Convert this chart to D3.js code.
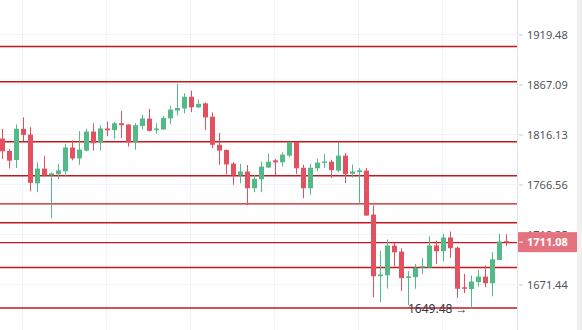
<!DOCTYPE html>
<html>
<head>
<meta charset="utf-8">
<script src="https://cdn.jsdelivr.net/npm/d3@7"></script>
<style>
  html, body { margin: 0; padding: 0; background: #fff; }
  svg { display: block; font-family: "Noto Sans", "Open Sans", sans-serif; }
</style>
</head>
<body>
<div id="chart"></div>
<script>
// candles, oldest first
var opens = [
  1812.1, 1799.8, 1790.7, 1821.9, 1816.1, 1767.7, 1782.2, 1775.6, 1776.6, 1779.6,
  1803.1, 1792.3, 1800.0, 1819.1, 1808.1, 1822.2, 1820.5, 1827.5, 1826.2, 1808.8,
  1824.7, 1832.2, 1820.5, 1821.2, 1832.4, 1840.4, 1842.5, 1854.5, 1843.6, 1847.7,
  1834.2, 1805.8, 1800.7, 1787.1, 1775.4, 1779.3, 1762.9, 1771.7, 1783.2, 1790.3,
  1788.4, 1795.0, 1808.4, 1783.0, 1762.9, 1782.5, 1787.8, 1789.0, 1780.2, 1795.0,
  1777.1, 1778.8, 1780.2, 1737.4, 1679.1, 1680.0, 1707.7, 1702.2, 1677.5, 1678.2,
  1687.2, 1687.2, 1707.9, 1702.5, 1715.5, 1705.8, 1668.9, 1667.3, 1673.6, 1678.8,
  1672.6, 1694.3, 1712.0
];
var highs = [
  1821.9, 1801.4, 1826.2, 1833.5, 1823.5, 1788.4, 1795.0, 1778.3, 1786.8, 1806.8,
  1810.1, 1819.5, 1821.9, 1827.5, 1825.2, 1829.2, 1828.7, 1840.0, 1826.5, 1827.4,
  1836.2, 1842.3, 1827.4, 1835.0, 1845.2, 1867.9, 1858.0, 1860.7, 1851.6, 1848.7,
  1838.5, 1817.8, 1801.0, 1788.4, 1786.8, 1785.8, 1776.3, 1789.0, 1797.3, 1791.7,
  1798.3, 1808.4, 1808.4, 1786.1, 1786.8, 1792.0, 1796.7, 1791.0, 1808.4, 1797.5,
  1786.1, 1782.7, 1782.9, 1746.3, 1703.1, 1713.6, 1710.3, 1705.2, 1683.9, 1690.6,
  1696.2, 1716.5, 1712.6, 1719.0, 1721.2, 1706.9, 1681.3, 1679.8, 1685.0, 1689.0,
  1701.5, 1719.0, 1718.6
];
var lows = [
  1791.7, 1782.2, 1782.7, 1809.3, 1760.0, 1759.0, 1774.7, 1733.9, 1771.7, 1774.1,
  1790.4, 1786.0, 1799.3, 1800.0, 1800.0, 1814.3, 1811.3, 1812.6, 1804.1, 1800.8,
  1821.4, 1819.1, 1816.9, 1820.7, 1826.4, 1835.4, 1837.4, 1838.7, 1842.8, 1820.4,
  1802.4, 1786.0, 1776.5, 1766.3, 1767.8, 1746.7, 1759.0, 1759.0, 1782.9, 1775.4,
  1784.2, 1793.3, 1777.0, 1753.2, 1756.3, 1779.3, 1782.9, 1772.9, 1778.6, 1767.8,
  1773.4, 1747.7, 1736.4, 1659.7, 1655.1, 1667.7, 1688.3, 1665.6, 1652.5, 1667.5,
  1681.3, 1687.2, 1690.6, 1693.0, 1696.2, 1659.2, 1663.4, 1649.48, 1669.6, 1668.9,
  1660.5, 1694.3, 1707.2
];
var closes = [
  1799.3, 1790.0, 1821.9, 1815.8, 1768.2, 1782.2, 1775.4, 1777.5, 1780.4, 1803.1,
  1792.2, 1801.0, 1819.1, 1807.4, 1822.2, 1820.4, 1827.4, 1825.5, 1808.8, 1825.5,
  1832.4, 1819.8, 1822.2, 1833.0, 1841.3, 1843.0, 1854.5, 1843.6, 1847.2, 1833.4,
  1805.8, 1800.0, 1786.3, 1775.4, 1779.3, 1762.9, 1772.1, 1784.2, 1789.0, 1788.4,
  1796.0, 1808.4, 1782.5, 1762.9, 1783.0, 1788.1, 1789.2, 1780.7, 1795.0, 1776.8,
  1779.3, 1780.5, 1736.4, 1679.1, 1680.7, 1707.9, 1701.5, 1677.5, 1679.0, 1686.9,
  1688.4, 1707.9, 1702.5, 1715.5, 1705.3, 1667.5, 1667.5, 1674.2, 1678.8, 1672.6,
  1694.9, 1711.7, 1711.08
];

// price axis ticks (log scale) and drawn support / resistance levels
var yTicks = [1919.48, 1867.09, 1816.13, 1766.56, 1718.35, 1671.44];
var levels = [1906.8, 1869.9, 1808.9, 1775.2, 1747.7, 1729.5, 1710.6, 1687.2, 1649.9];
// candles that carry a vertical time grid line
var timeGrid = [3, 15, 27, 39, 51, 63];

var lastPrice = 1711.08;
var lowPrice = 1649.48;

(function(d3) {

    'use strict';

    var width = 582,
        height = 330,
        plotRight = 517;

    var up = '#53b987',
        down = '#e2515f',
        levelColor = '#c8161f',
        gridColor = '#f0f3fa';

    var svg = d3.select('#chart')
      .append('svg')
        .attr('width', width)
        .attr('height', height);

    var x = d3.scaleLinear()
      .domain([0, opens.length - 1])
      .range([2.5, 506.5]);

    var y = d3.scaleLog()
      .domain([yTicks[0], yTicks[yTicks.length - 1]])
      .range([34.5, 284.5]);

    // scrollbar strip on the far right
    svg.append('rect')
      .attr('x', 577).attr('y', 0)
      .attr('width', width - 577).attr('height', height)
      .attr('fill', '#f0f0f0');

    // grid
    svg.append('g')
      .selectAll('line')
      .data(yTicks)
      .enter().append('line')
        .attr('x1', 0).attr('x2', plotRight)
        .attr('y1', function(d) { return y(d); })
        .attr('y2', function(d) { return y(d); })
        .attr('stroke', gridColor);

    svg.append('g')
      .selectAll('line')
      .data(timeGrid)
      .enter().append('line')
        .attr('x1', function(d) { return x(d) - 1; })
        .attr('x2', function(d) { return x(d) - 1; })
        .attr('y1', 0).attr('y2', height)
        .attr('stroke', gridColor);

    // level lines
    svg.append('g')
      .selectAll('line')
      .data(levels)
      .enter().append('line')
        .attr('x1', 0).attr('x2', plotRight)
        .attr('y1', function(d) { return y(d); })
        .attr('y2', function(d) { return y(d); })
        .attr('stroke', levelColor)
        .attr('stroke-width', 1.4);

    // candles
    var candles = svg.append('g')
      .selectAll('g')
      .data(d3.range(opens.length))
      .enter().append('g')
        .attr('fill', function(i) { return closes[i] >= opens[i] ? up : down; })
        .attr('stroke', function(i) { return closes[i] >= opens[i] ? up : down; });

    candles.append('line')
      .attr('x1', function(i) { return x(i); })
      .attr('x2', function(i) { return x(i); })
      .attr('y1', function(i) { return y(highs[i]); })
      .attr('y2', function(i) { return y(lows[i]); })
      .attr('stroke-width', 1);

    candles.append('rect')
      .attr('stroke', 'none')
      .attr('x', function(i) { return x(i) - 2.5; })
      .attr('width', 5)
      .attr('y', function(i) { return y(Math.max(opens[i], closes[i])); })
      .attr('height', function(i) {
          return Math.max(1.2, Math.abs(y(opens[i]) - y(closes[i])));
      });

    // lowest low marker
    var lowIndex = lows.indexOf(lowPrice);
    var lowLabel = svg.append('text')
      .attr('x', x(lowIndex) - 4)
      .attr('y', y(lowPrice))
      .attr('dy', '0.35em')
      .attr('text-anchor', 'end')
      .attr('font-size', 12)
      .attr('fill', '#333640');
    lowLabel.append('tspan').text(lowPrice.toFixed(2) + ' ');
    lowLabel.append('tspan').attr('font-weight', 'bold').text('\u2192');

    // right price axis
    var axis = svg.append('g')
      .attr('transform', 'translate(' + plotRight + ',0)')
      .call(d3.axisRight(y)
        .tickValues(yTicks)
        .tickFormat(d3.format('.2f'))
        .tickSize(6)
        .tickPadding(4));
    axis.select('.domain')
      .attr('d', 'M0.5,0V' + height)
      .attr('stroke', '#e0e3eb');
    axis.selectAll('.tick line')
      .attr('x1', 2)
      .attr('stroke', '#c9ccd4');
    axis.selectAll('.tick text')
      .attr('font-family', '"Noto Sans", "Open Sans", sans-serif')
      .attr('font-size', 11)
      .attr('fill', '#50535e');

    // last price tag
    var tag = svg.append('g')
      .attr('transform', 'translate(' + plotRight + ',' + y(lastPrice) + ')');
    tag.append('rect')
      .attr('x', 1).attr('y', -10)
      .attr('width', 59).attr('height', 20)
      .attr('fill', '#e4737f');
    tag.append('line')
      .attr('x1', 2).attr('x2', 6)
      .attr('stroke', '#fff');
    tag.append('text')
      .attr('x', 10)
      .attr('dy', '0.35em')
      .attr('font-size', 11)
      .attr('font-weight', 'bold')
      .attr('fill', '#fff')
      .text(lastPrice.toFixed(2));

})(d3);
</script>
</body>
</html>
